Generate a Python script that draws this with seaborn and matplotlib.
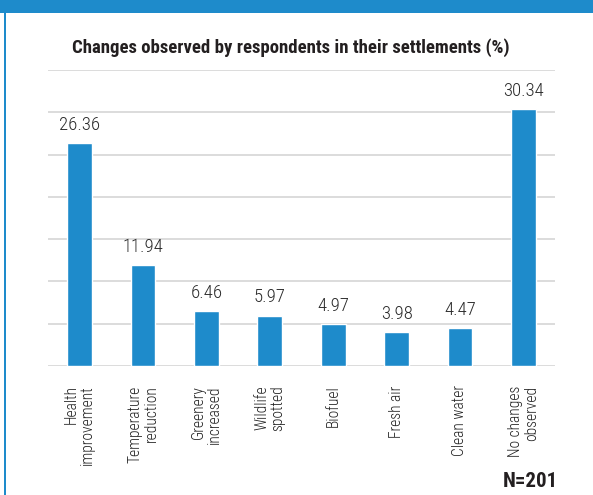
import matplotlib
matplotlib.use("Agg")
import matplotlib.pyplot as plt
import seaborn as sns
import pandas as pd
from matplotlib.patches import Rectangle

categories = ["Health\nimprovement", "Temperature\nreduction", "Greenery\nincreased",
              "Wildlife\nspotted", "Biofuel", "Fresh air", "Clean water",
              "No changes\nobserved"]
values = [26.36, 11.94, 6.46, 5.97, 4.97, 3.98, 4.47, 30.34]
value_labels = ["26.36", "11.94", "6.46", "5.97", "4.97", "3.98", "4.47", "30.34"]
title = "Changes observed by respondents in their settlements (%)"
note = "N=201"

BLUE = "#1e8bcb"
sns.set_theme(style="white")
plt.rcParams['font.family'] = ['Roboto Condensed', 'DejaVu Sans']

W, H = 593, 495
fig = plt.figure(figsize=(W / 100, H / 100), dpi=100)
fig.patch.set_facecolor("white")

# frame: top band and left border
fig.add_artist(Rectangle((0, 1 - 13 / H), 1, 13 / H, transform=fig.transFigure,
                         color=BLUE, lw=0, zorder=0))
fig.add_artist(Rectangle((4 / W, 0), 2 / W, 1, transform=fig.transFigure,
                         color=BLUE, lw=0, zorder=0))

left, right, top, bottom = 48, 555, 70, 366
ax = fig.add_axes([left / W, 1 - bottom / H, (right - left) / W, (bottom - top) / H])

df = pd.DataFrame({"cat": categories, "val": values})
sns.barplot(data=df, x="cat", y="val", color=BLUE, saturation=1, width=0.39, ax=ax, zorder=3)

ax.set_ylim(0, 35)
ax.set_yticks(range(0, 36, 5))
ax.yaxis.grid(True, color="#d9d9d9", lw=1.3, zorder=0)
ax.set_axisbelow(True)
ax.tick_params(axis="y", left=False, labelleft=False)
ax.tick_params(axis="x", bottom=False, pad=8)
for s in ax.spines.values():
    s.set_visible(False)
ax.set_xlabel("")
ax.set_ylabel("")

ax.set_xticks(range(len(categories)))
ax.set_xticklabels(categories, rotation=90, ha="center", va="top",
                   multialignment="right", fontsize=11.2, fontweight="light",
                   color="#222222", linespacing=1.1)

for i, (v, lab) in enumerate(zip(values, value_labels)):
    ax.annotate(lab, (i, v), xytext=(0, 6.5), textcoords="offset points",
                ha="center", va="bottom", fontsize=13.5, fontweight="light",
                color="#2a2a2a")

fig.text(291 / W, 1 - 53 / H, title, ha="center", va="baseline",
         fontsize=13.5, fontweight="bold", color="#231f20")
fig.text(558 / W, 1 - 487 / H, note, ha="right", va="baseline",
         fontsize=15, fontweight="bold", color="#231f20")

fig.savefig("out.png", dpi=100)
